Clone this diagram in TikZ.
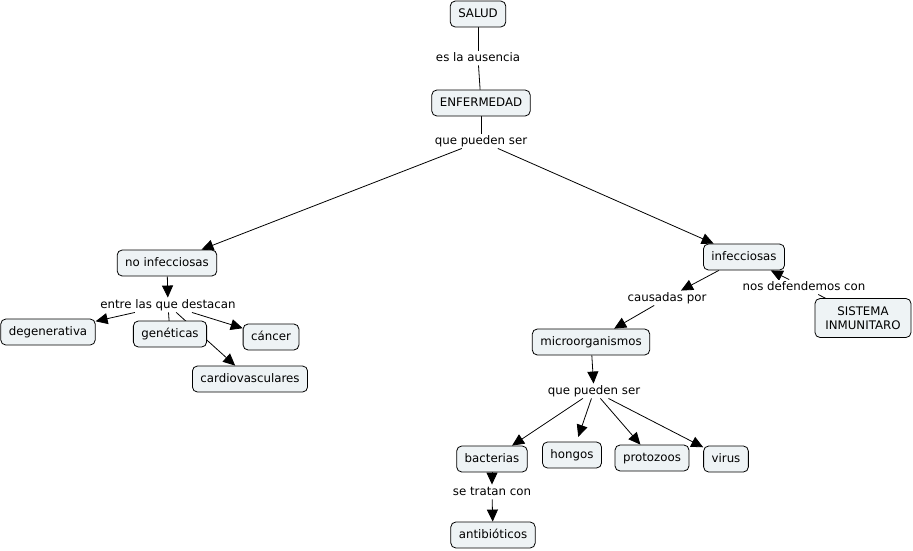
\documentclass[tikz,border=0pt]{standalone}
\usepackage{fontspec}
\setmainfont{DejaVu Sans}
\usetikzlibrary{arrows.meta,backgrounds}
\definecolor{boxfill}{RGB}{238,243,245}
\begin{document}
\begin{tikzpicture}[x=1pt,y=-1pt,
  every node/.style={font=\fontsize{11.8}{13.5}\selectfont},
  box/.style={draw=black, line width=0.8pt, fill=boxfill, rounded corners=5pt,
    inner xsep=8pt, inner ysep=3pt, minimum height=26pt, text height=9pt, text depth=2.5pt},
  lnk/.style={fill=white, inner xsep=2pt, inner ysep=1.5pt, text height=9pt, text depth=2.5pt},
  con/.style={line width=0.8pt, draw=black},
  arr/.style={con, -{Triangle[length=12pt,width=11pt]}}]
\useasboundingbox (0,0) rectangle (913,550);
\node[box] (salud) at (478,14) {SALUD};
\node[lnk] (l1) at (478,58) {es la ausencia};
\node[box] (enf) at (481,103) {ENFERMEDAD};
\node[lnk] (l2) at (481,141) {que pueden ser};
\node[box] (noinf) at (167,263) {no infecciosas};
\node[box] (inf) at (744,257) {infecciosas};
\node[lnk] (l3) at (168,305) {entre las que destacan};
\node[box] (deg) at (48,332) {degenerativa};
\node[box] (gen) at (170,334) {genéticas};
\node[box] (can) at (271,337) {cáncer};
\node[box] (car) at (250,379) {cardiovasculares};
\node[lnk] (l4) at (667,298) {causadas por};
\node[lnk] (l5) at (804,287) {nos defendemos con};
\node[box, align=center, text height=, text depth=, minimum height=39pt, minimum width=96pt, inner xsep=6pt] (sis) at (863,318) {SISTEMA\\INMUNITARO};
\node[box] (mic) at (591,342) {microorganismos};
\node[lnk] (l6) at (594,391) {que pueden ser};
\node[box] (bac) at (492,459) {bacterias};
\node[box] (hon) at (572,455) {hongos};
\node[box] (pro) at (652,458) {protozoos};
\node[box] (vir) at (726,459) {virus};
\node[lnk] (l7) at (492,492) {se tratan con};
\node[box] (ant) at (493,535) {antibióticos};
\begin{pgfonlayer}{background}
\draw[con] (salud) -- (l1);
\draw[con] (l1) -- (enf);
\draw[con] (enf) -- (l2);
\draw[arr] (l2) -- (noinf);
\draw[arr] (l2) -- (inf);
\draw[arr] (noinf) -- (l3);
\draw[arr] (l3) -- (deg);
\draw[arr] (l3) -- (gen.center);
\draw[arr] (l3) -- (can);
\draw[arr] (l3) -- (car);
\draw[arr] (inf) -- (l4);
\draw[arr] (l4) -- (mic);
\draw[arr] (l5) -- (inf);
\draw[arr] (l5) -- (sis.center);
\draw[arr] (mic) -- (l6);
\draw[arr] (l6) -- (bac);
\draw[arr, shorten >=5pt] (l6) -- (hon);
\draw[arr] (l6) -- (pro);
\draw[arr] (l6) -- (vir);
\draw[arr] (bac) -- (l7);
\draw[arr] (l7) -- (ant);
\end{pgfonlayer}
\end{tikzpicture}
\end{document}
